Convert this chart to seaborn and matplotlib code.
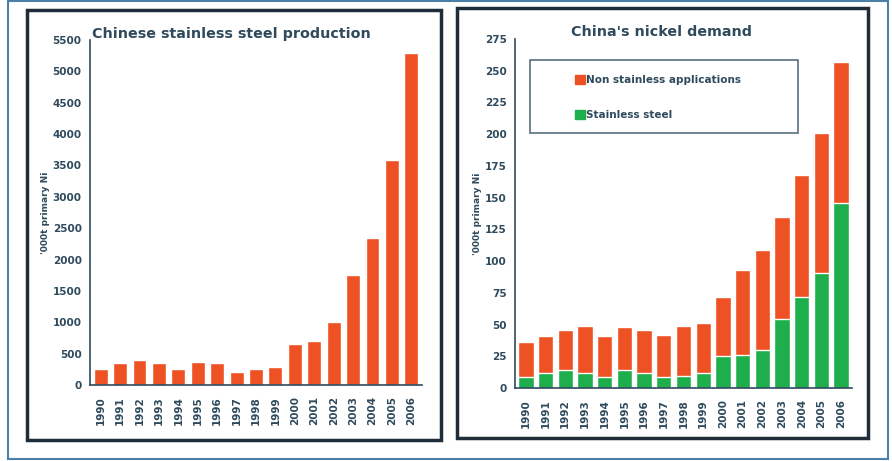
import numpy as np
import pandas as pd
import matplotlib
matplotlib.use("Agg")
import matplotlib.pyplot as plt
from matplotlib.patches import Rectangle, Patch
import seaborn as sns

# data
years = [str(y) for y in range(1990, 2007)]
stainless_prod = [250, 350, 400, 350, 250, 370, 350, 200, 250, 280,
                  650, 700, 1000, 1750, 2350, 3580, 5300]
ni_stainless = [9, 12, 14, 12, 9, 14, 12, 9, 9.5, 11.5,
                25, 26, 30, 54, 72, 91, 146]
ni_other = [27, 29, 32, 37, 32, 34, 34, 33, 39.5, 39.5,
            47, 67, 79, 81, 96, 110, 111]

orange = "#EE5224"
green = "#1EAF4C"
txt = "#2E4A5C"

sns.set_style("white")
plt.rcParams['font.family'] = ['DejaVu Sans']

fig = plt.figure(figsize=(8.92, 4.61), dpi=100)
W, H = 892, 461


def px_axes(x0, y0, x1, y1):
    return fig.add_axes([x0 / W, 1 - y1 / H, (x1 - x0) / W, (y1 - y0) / H])


def px_rect(x0, y0, x1, y1, **kw):
    fig.patches.append(Rectangle((x0 / W, 1 - y1 / H), (x1 - x0) / W, (y1 - y0) / H,
                                 transform=fig.transFigure, fill=False, **kw))


# frames
px_rect(8, 1, 888, 459, edgecolor="#4A7FA8", lw=1.5)
px_rect(27, 10, 441, 440, edgecolor="#1F2D3A", lw=2.5)
px_rect(457, 8, 868, 438, edgecolor="#1F2D3A", lw=2.5)


def style_axes(ax, top, step):
    ax.set_xlim(-0.55, len(years) - 0.45)
    ax.set_ylim(0, top)
    ax.set_yticks(np.arange(0, top + 1, step))
    ax.set_xticks(range(len(years)))
    ax.set_xticklabels(years, rotation=90, fontsize=7.5, fontweight="bold", color=txt)
    ax.set_xticks(np.arange(-0.5, len(years), 1), minor=True)
    ax.tick_params(axis="x", which="major", length=0, pad=8)
    ax.tick_params(axis="x", which="minor", length=3, color=txt, width=1)
    ax.tick_params(axis="y", length=3, color=txt, width=1, labelsize=7.5, labelcolor=txt, pad=3)
    for lab in ax.get_yticklabels():
        lab.set_fontweight("bold")
    sns.despine(ax=ax)
    for s in ["left", "bottom"]:
        ax.spines[s].set_color(txt)
        ax.spines[s].set_linewidth(1.2)
    ax.set_xlabel("")
    ax.set_ylabel("'000t primary Ni", fontsize=6.5, color=txt, fontweight="bold", labelpad=2)


# left: stainless steel production
ax1 = px_axes(90, 40, 422, 385)
df1 = pd.DataFrame({"year": years, "value": stainless_prod})
sns.barplot(data=df1, x="year", y="value", color=orange, saturation=1, width=0.72, ax=ax1)
style_axes(ax1, 5500, 500)
ax1.text(0.005, 1.018, "Chinese stainless steel production", transform=ax1.transAxes,
         fontsize=10.3, fontweight="bold", color=txt, ha="left", va="center")

# right: nickel demand (stacked)
ax2 = px_axes(515, 39, 852, 388)
df2 = pd.DataFrame({"year": years, "stainless": ni_stainless, "other": ni_other})
df2["total"] = df2["stainless"] + df2["other"]
sns.barplot(data=df2, x="year", y="total", color=orange, saturation=1, width=0.78, ax=ax2)
sns.barplot(data=df2, x="year", y="stainless", color=green, saturation=1, width=0.78, ax=ax2)
style_axes(ax2, 275, 25)
ax2.text(0.436, 1.02, "China's nickel demand", transform=ax2.transAxes,
         fontsize=10.3, fontweight="bold", color=txt, ha="center", va="center")

# legend frame drawn separately so it can be as wide as the original
ax2.add_patch(Rectangle((0.045, 0.731), 0.795, 0.209, transform=ax2.transAxes,
                        fill=False, edgecolor="#5A6E7E", lw=1.2, zorder=5, clip_on=False))
handles = [Patch(color=orange, label="Non stainless applications"),
           Patch(color=green, label="Stainless steel")]
leg = ax2.legend(handles=handles, loc="upper left", bbox_to_anchor=(0.17, 0.905),
                 fontsize=7.5, frameon=False, labelspacing=2.4,
                 handlelength=0.9, handleheight=0.9, handletextpad=0.15,
                 borderpad=0.3, borderaxespad=0)
for t in leg.get_texts():
    t.set_fontweight("bold")
    t.set_color(txt)

fig.savefig("out.png", dpi=100)
